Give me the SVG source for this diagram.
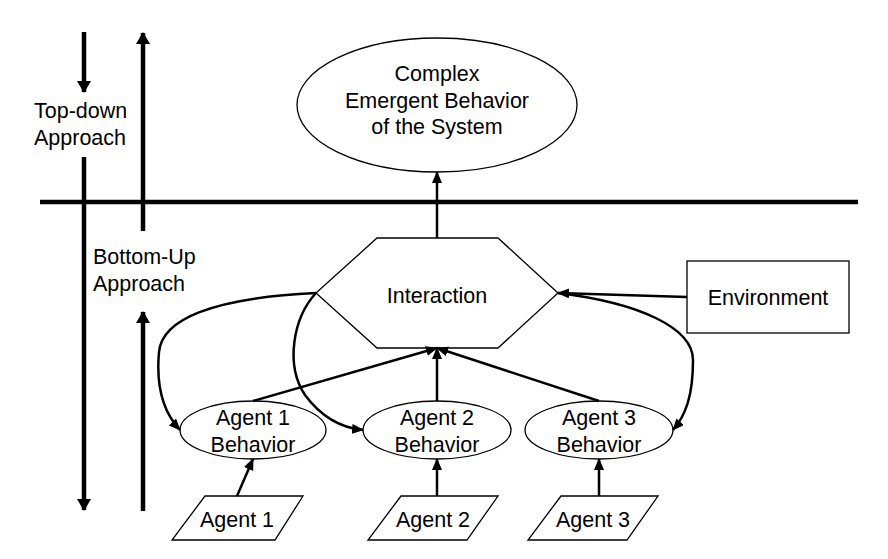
<svg xmlns="http://www.w3.org/2000/svg" width="888" height="559" viewBox="0 0 888 559">
<style>
  .shape { fill: #fff; stroke: #000; stroke-width: 1.3; }
  .t { font-family: "Liberation Sans", Arial, sans-serif; font-size: 21.5px; fill: #000; text-anchor: middle; }
  .tl { font-family: "Liberation Sans", Arial, sans-serif; font-size: 21.5px; fill: #000; }
  .c { fill: none; stroke: #000; stroke-width: 2.5; }
  .thick { fill: none; stroke: #000; stroke-width: 4.5; }
</style>
<defs>
  <marker id="ah" markerUnits="userSpaceOnUse" markerWidth="12" markerHeight="10" refX="11" refY="5" orient="auto">
    <path d="M0,0 L12,5 L0,10 z" fill="#000"/>
  </marker>
  <marker id="big" markerUnits="userSpaceOnUse" markerWidth="12" markerHeight="14" refX="11" refY="7" orient="auto">
    <path d="M0,0 L12,7 L0,14 z" fill="#000"/>
  </marker>
</defs>

<g id="axes">
  <line class="thick" x1="40" y1="202" x2="858" y2="202" stroke-width="5"/>
  <line class="thick" x1="84" y1="32" x2="84" y2="92" marker-end="url(#big)"/>
  <line class="thick" x1="84" y1="157" x2="84" y2="510" marker-end="url(#big)"/>
  <line class="thick" x1="143" y1="231" x2="143" y2="33" marker-end="url(#big)"/>
  <line class="thick" x1="143" y1="511" x2="143" y2="312" marker-end="url(#big)"/>
  <text class="tl" x="34" y="118">Top-down</text>
  <text class="tl" x="34" y="145">Approach</text>
  <text class="tl" x="93" y="264">Bottom-Up</text>
  <text class="tl" x="93" y="291">Approach</text>
</g>

<g id="emergent">
  <ellipse class="shape" cx="437" cy="105" rx="140" ry="67"/>
  <text class="t" x="437" y="81">Complex</text>
  <text class="t" x="437" y="108">Emergent Behavior</text>
  <text class="t" x="437" y="134">of the System</text>
</g>

<g id="interaction">
  <polygon class="shape" points="377,238 498,238 558,293 498,348 377,348 316,293"/>
  <text class="t" x="437" y="303">Interaction</text>
</g>

<g id="environment">
  <rect class="shape" x="687" y="261" width="162" height="72"/>
  <text class="t" x="768" y="305">Environment</text>
</g>

<g id="agent1-behavior">
  <ellipse class="shape" cx="253" cy="430" rx="73" ry="29"/>
  <text class="t" x="253" y="425">Agent 1</text>
  <text class="t" x="253" y="452">Behavior</text>
</g>
<g id="agent2-behavior">
  <ellipse class="shape" cx="437" cy="430" rx="74" ry="29"/>
  <text class="t" x="437" y="425">Agent 2</text>
  <text class="t" x="437" y="452">Behavior</text>
</g>
<g id="agent3-behavior">
  <ellipse class="shape" cx="599" cy="430" rx="74" ry="29"/>
  <text class="t" x="599" y="425">Agent 3</text>
  <text class="t" x="599" y="452">Behavior</text>
</g>

<g id="agent1">
  <polygon class="shape" points="205,496 303,496 275,540 172,540"/>
  <text class="t" x="237" y="527">Agent 1</text>
</g>
<g id="agent2">
  <polygon class="shape" points="401,496 498,496 467,540 368,540"/>
  <text class="t" x="433" y="527">Agent 2</text>
</g>
<g id="agent3">
  <polygon class="shape" points="561,496 658,496 627,540 528,540"/>
  <text class="t" x="593" y="527">Agent 3</text>
</g>

<g id="connectors">
  <line class="c" x1="437" y1="238" x2="437" y2="172" marker-end="url(#ah)"/>
  <line class="c" x1="687" y1="297" x2="558" y2="293" marker-end="url(#ah)"/>
  <line class="c" x1="253" y1="401" x2="437" y2="348" marker-end="url(#ah)"/>
  <line class="c" x1="437" y1="401" x2="437" y2="348" marker-end="url(#ah)"/>
  <line class="c" x1="599" y1="401" x2="437" y2="348" marker-end="url(#ah)"/>
  <line class="c" x1="237" y1="496" x2="253" y2="459" marker-end="url(#ah)"/>
  <line class="c" x1="437" y1="496" x2="437" y2="459" marker-end="url(#ah)"/>
  <line class="c" x1="599" y1="496" x2="599" y2="459" marker-end="url(#ah)"/>
  <path class="c" d="M316,293 C210,298 162,320 159,352 C156,385 163,412 180,430" marker-end="url(#ah)"/>
  <path class="c" d="M316,293 C293,318 285,365 305,395 C322,418 343,428 363,430" marker-end="url(#ah)"/>
  <path class="c" d="M558,293 C640,303 693,328 693,360 C693,395 686,415 673,430" marker-end="url(#ah)"/>
</g>
</svg>
